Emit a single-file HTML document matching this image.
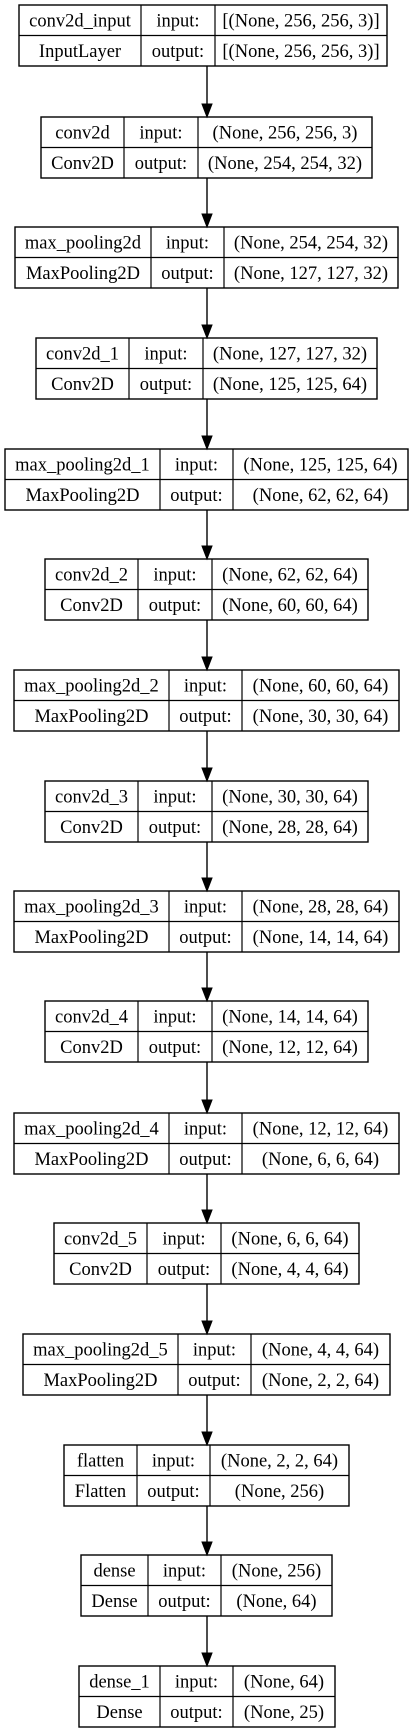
<!DOCTYPE html>
<html><head><meta charset="utf-8"><style>
html,body{margin:0;padding:0;background:#fff;}
svg{display:block;}
text{font-family:"Liberation Serif",serif;font-size:18.5px;fill:#000;}
</style></head><body>
<svg id="g" width="413" height="1733" viewBox="0 0 413 1733"></svg>
<script>
const names=["conv2d_input","conv2d","max_pooling2d","conv2d_1","max_pooling2d_1","conv2d_2","max_pooling2d_2","conv2d_3","max_pooling2d_3","conv2d_4","max_pooling2d_4","conv2d_5","max_pooling2d_5","flatten","dense","dense_1"];
const types=["InputLayer","Conv2D","MaxPooling2D","Conv2D","MaxPooling2D","Conv2D","MaxPooling2D","Conv2D","MaxPooling2D","Conv2D","MaxPooling2D","Conv2D","MaxPooling2D","Flatten","Dense","Dense"];
const inputs=["[(None, 256, 256, 3)]","(None, 256, 256, 3)","(None, 254, 254, 32)","(None, 127, 127, 32)","(None, 125, 125, 64)","(None, 62, 62, 64)","(None, 60, 60, 64)","(None, 30, 30, 64)","(None, 28, 28, 64)","(None, 14, 14, 64)","(None, 12, 12, 64)","(None, 6, 6, 64)","(None, 4, 4, 64)","(None, 2, 2, 64)","(None, 256)","(None, 64)"];
const outputs=["[(None, 256, 256, 3)]","(None, 254, 254, 32)","(None, 127, 127, 32)","(None, 125, 125, 64)","(None, 62, 62, 64)","(None, 60, 60, 64)","(None, 30, 30, 64)","(None, 28, 28, 64)","(None, 14, 14, 64)","(None, 12, 12, 64)","(None, 6, 6, 64)","(None, 4, 4, 64)","(None, 2, 2, 64)","(None, 256)","(None, 64)","(None, 25)"];
// layout geometry (measured)
const boxL=[19,41,15,36,5,45,14,45,14,45,14,54,23,64,81,79];
const boxR=[387,372,398,377,408,368,399,368,399,368,399,359,390,349,332,335];
const div1=[141,124,151,129,160,138,169,138,169,138,169,147,178,137,148,160];
const div2=[215,198,224,203,233,212,242,212,242,212,242,221,251,210,221,233];
const tops=[5,117,227,338,449,559,670,781,891,1001,1113,1223,1334,1445,1555,1666];
const H=61, CX=207;
const NS="http://www.w3.org/2000/svg";
const svg=document.getElementById('g');
function mk(tag,attrs,parent){const e=document.createElementNS(NS,tag);for(const k in attrs)e.setAttribute(k,attrs[k]);(parent||svg).appendChild(e);return e;}
for(let i=0;i<names.length;i++){
  const g=mk('g',{});
  
  
  const x0=boxL[i],x1=boxR[i],y0=tops[i],ym=y0+H/2,y1=y0+H;
  const r=mk('rect',{x:x0,y:y0,width:x1-x0,height:H,fill:'#fff',stroke:'#000','stroke-width':1.4},g);
  
  
  mk('line',{x1:x0,y1:ym,x2:x1,y2:ym,stroke:'#000','stroke-width':1.2},g);
  mk('line',{x1:div1[i],y1:y0,x2:div1[i],y2:y1,stroke:'#000','stroke-width':1.2},g);
  mk('line',{x1:div2[i],y1:y0,x2:div2[i],y2:y1,stroke:'#000','stroke-width':1.2},g);
  const cells=[[names[i],(x0+div1[i])/2,y0+H/4,'layer-name'],[types[i],(x0+div1[i])/2,y0+3*H/4,'layer-type'],
    ['input:',(div1[i]+div2[i])/2,y0+H/4,'input-label'],['output:',(div1[i]+div2[i])/2,y0+3*H/4,'output-label'],
    [inputs[i],(div2[i]+x1)/2,y0+H/4,'input-shape'],[outputs[i],(div2[i]+x1)/2,y0+3*H/4,'output-shape']];
  for(const c of cells){
    const t=mk('text',{x:c[1],y:c[2]+6,'text-anchor':'middle'},g);
    t.textContent=c[0];
    
    
  }
  if(i>0){
    const a=mk('g',{});
    
    
    const ys=tops[i-1]+H, ye=tops[i];
    mk('line',{x1:CX,y1:ys,x2:CX,y2:ye-12,stroke:'#000','stroke-width':1.4},a);
    mk('polygon',{points:(CX-5)+','+(ye-13)+' '+(CX+5)+','+(ye-13)+' '+CX+','+ye,fill:'#000',stroke:'#000','stroke-width':1},a);
  }
}
</script>
</body></html>
